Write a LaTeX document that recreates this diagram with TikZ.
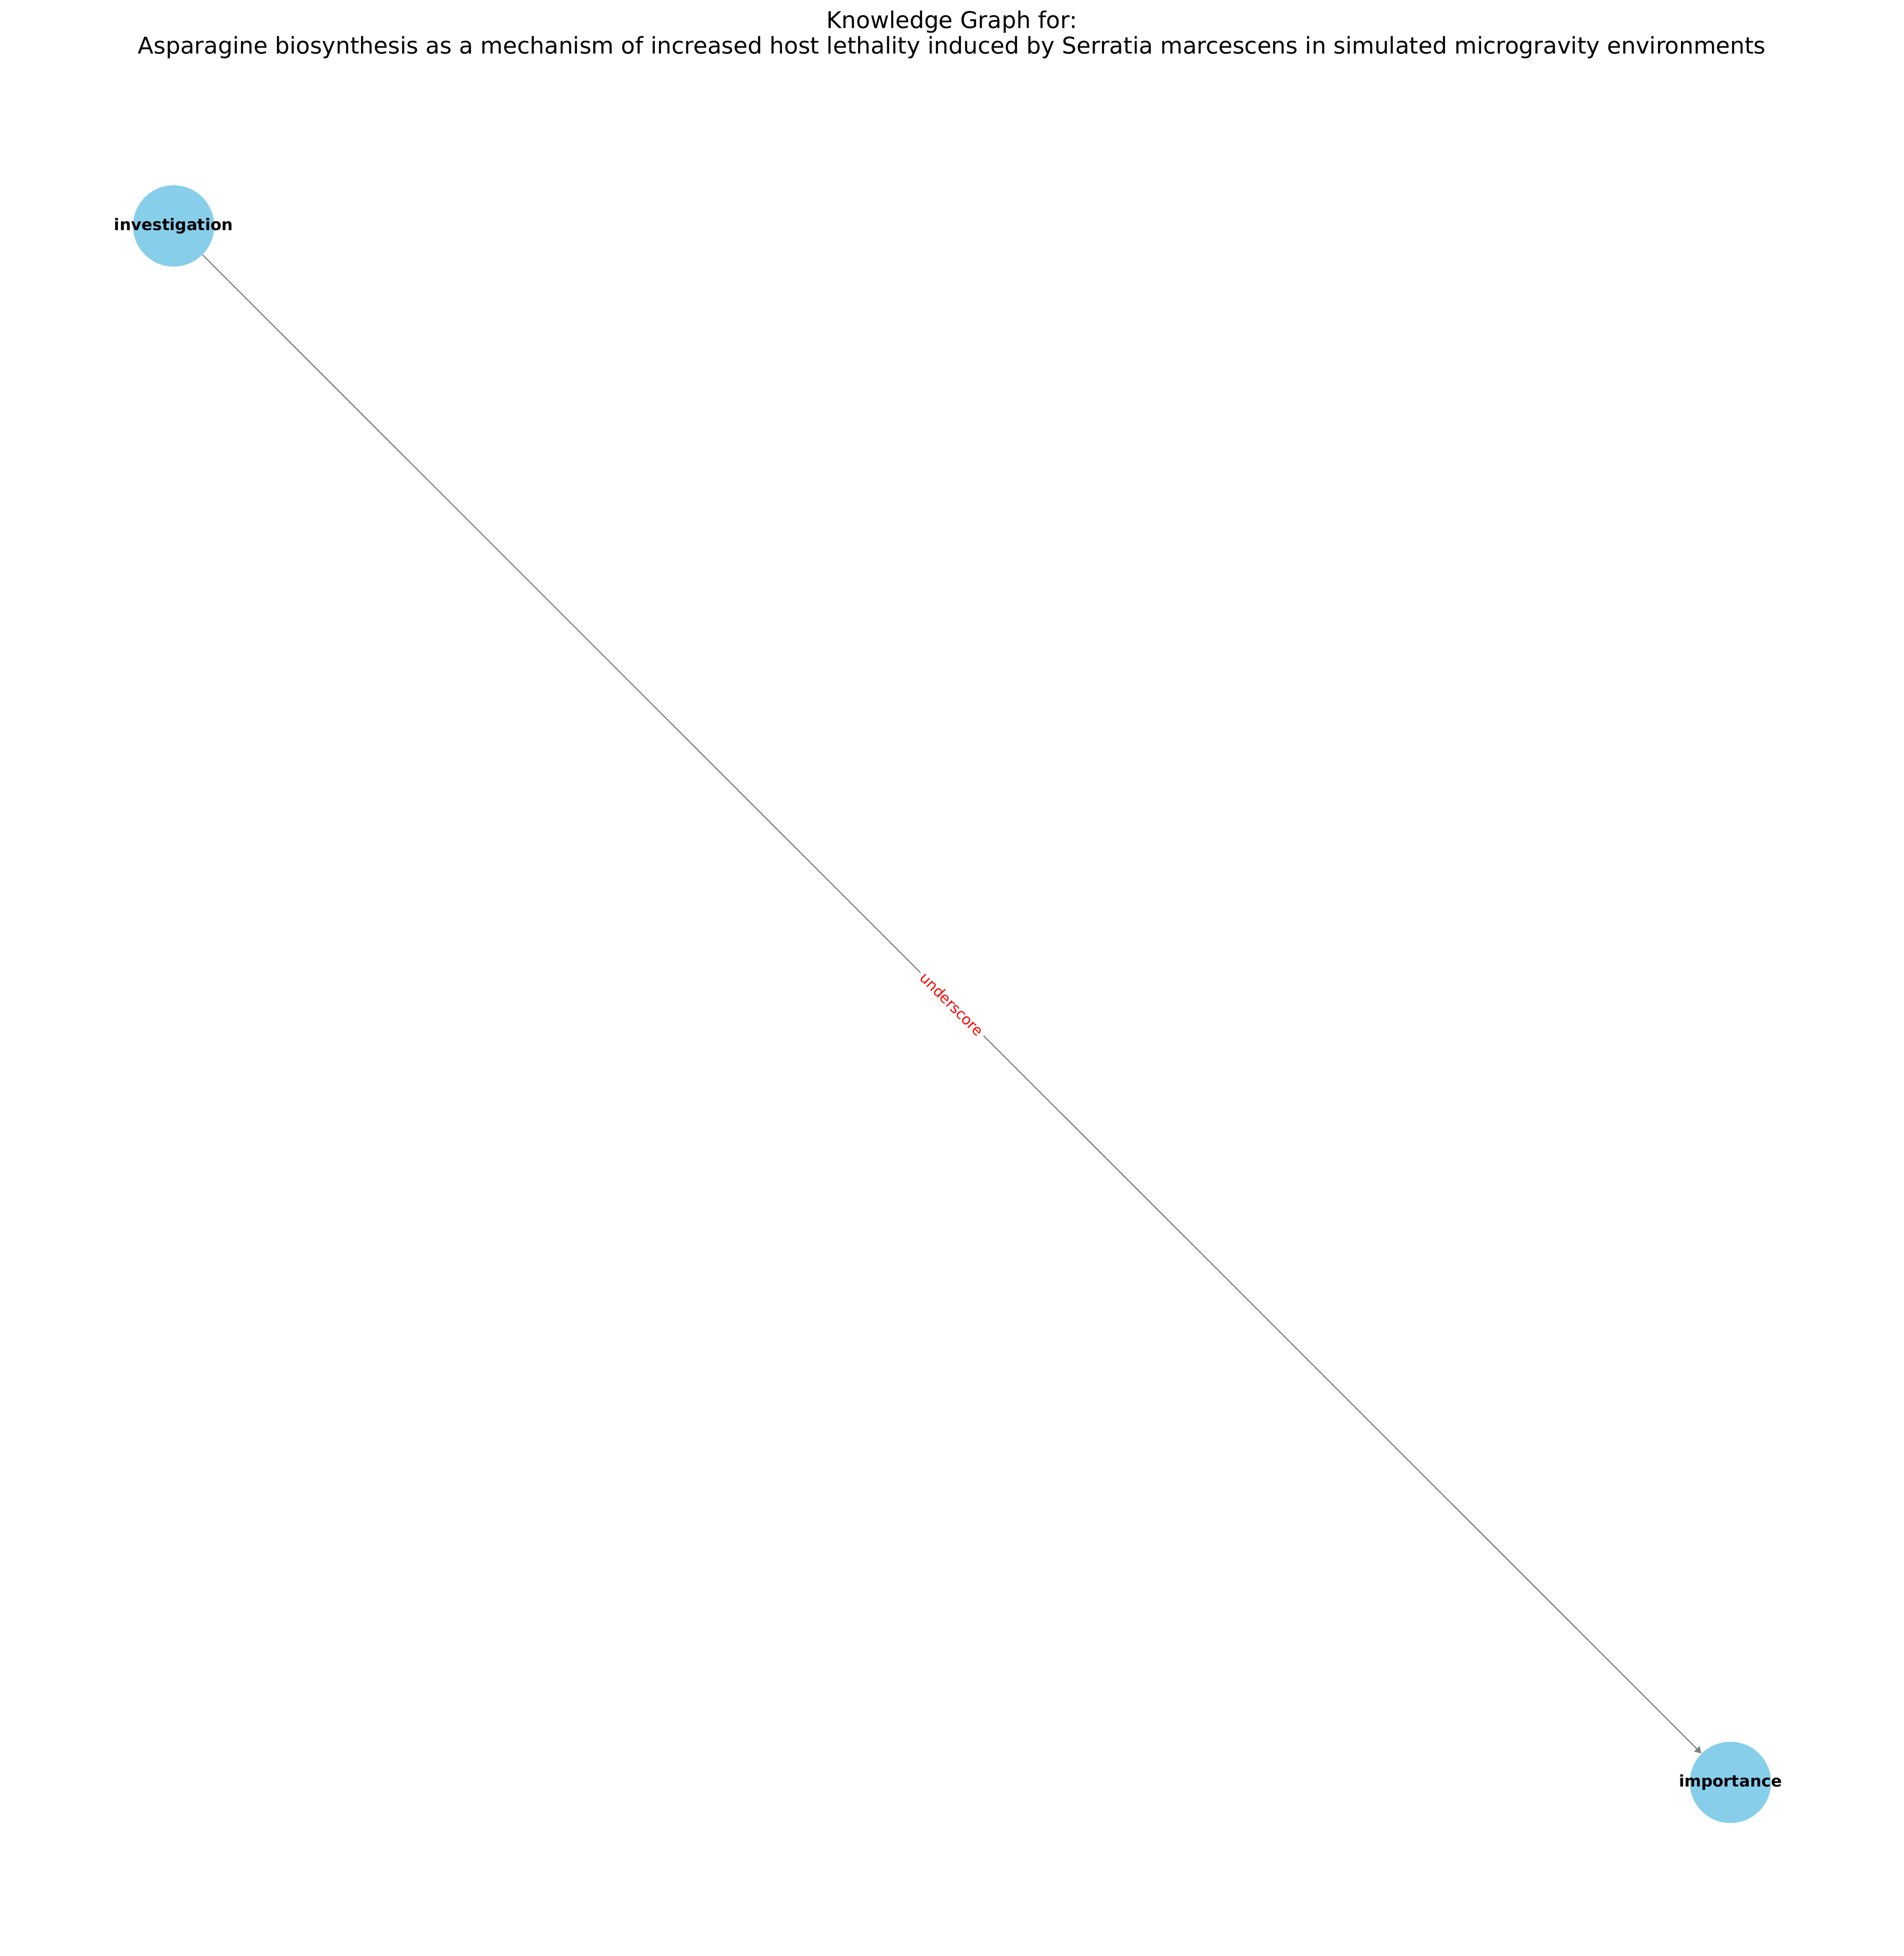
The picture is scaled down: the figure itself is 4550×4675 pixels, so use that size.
\documentclass[tikz,border=0pt]{standalone}
\usepackage{fontspec}
\setmainfont{DejaVu Sans}
\usepackage{tikz}
\usepackage{xcolor}
\usetikzlibrary{arrows.meta}

\definecolor{skyblue}{HTML}{87CEEB}

\begin{document}
\begin{tikzpicture}[x=0.24pt,y=-0.24pt,
  kgnode/.style={circle,fill=skyblue,inner sep=0pt,minimum size=46.6pt},
  kgname/.style={font=\fontsize{9.2}{11}\selectfont\bfseries},
  kgedge/.style={draw=gray,line width=0.65pt,-{Triangle[length=3.8pt,width=4.4pt]}},
  kglabel/.style={fill=white,text=red,inner sep=2pt,font=\fontsize{8.4}{10}\selectfont}]
\useasboundingbox (0,0) rectangle (4550,4675);

\node[anchor=north,align=center,inner sep=0pt,font=\fontsize{13.2}{14.64}\selectfont] (title) at (2275,25)
  {Knowledge Graph for:\\Asparagine biosynthesis as a mechanism of increased host lethality induced by Serratia marcescens in simulated microgravity environments};

\node[kgnode,label={[kgname]center:investigation}] (investigation) at (415,540) {};
\node[kgnode,label={[kgname]center:importance}] (importance) at (4136,4260) {};

\draw[kgedge] (investigation) -- node[kglabel,sloped] {underscore} (importance);

\end{tikzpicture}
\end{document}
